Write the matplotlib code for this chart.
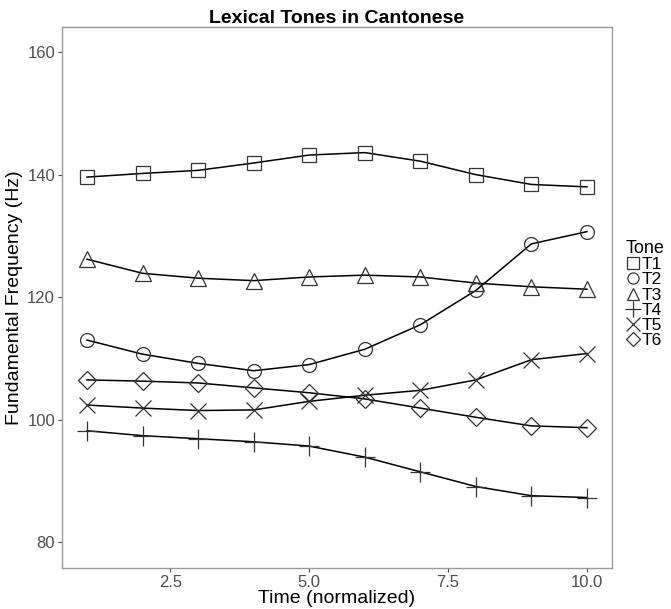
import matplotlib.pyplot as plt
from matplotlib.lines import Line2D

plt.rcParams['font.family'] = ['Liberation Sans', 'DejaVu Sans']

time = [1, 2, 3, 4, 5, 6, 7, 8, 9, 10]
tones = ['T1', 'T2', 'T3', 'T4', 'T5', 'T6']
t1 = [139.6, 140.2, 140.7, 141.9, 143.2, 143.6, 142.2, 140.0, 138.4, 138.0]
t2 = [113.0, 110.7, 109.2, 108.0, 109.0, 111.5, 115.5, 121.1, 128.7, 130.7]
t3 = [126.2, 123.9, 123.1, 122.7, 123.3, 123.6, 123.3, 122.3, 121.7, 121.3]
t4 = [98.2, 97.4, 96.9, 96.4, 95.7, 93.9, 91.5, 89.1, 87.6, 87.3]
t5 = [102.4, 101.9, 101.5, 101.6, 103.0, 104.0, 104.8, 106.5, 109.8, 110.8]
t6 = [106.5, 106.3, 106.0, 105.2, 104.4, 103.4, 101.9, 100.4, 99.0, 98.7]
series = [t1, t2, t3, t4, t5, t6]
markers = ['s', 'o', '^', '+', 'x', 'D']
sizes = [10, 10, 11, 14, 12, 9]
leg_sizes = [8, 8, 9, 11, 10, 7.5]

fig = plt.figure(figsize=(6.71, 6.09), dpi=100)
ax = fig.add_axes([0.0924, 0.0673, 0.8196, 0.8884])

handles = []
for name, ys, m, s, ls in zip(tones, series, markers, sizes, leg_sizes):
    ax.plot(time, ys, color='black', lw=1.1, zorder=2)
    ax.plot(time, ys, linestyle='none', marker=m, markersize=s,
            markerfacecolor='none', markeredgecolor='#333333',
            markeredgewidth=0.9, zorder=3)
    handles.append(Line2D([], [], linestyle='none', marker=m, markersize=ls,
                          markerfacecolor='none', markeredgecolor='#333333',
                          markeredgewidth=0.9, label=name))

ax.set_xlim(0.55, 10.45)
ax.set_ylim(75.8, 164.1)
ax.set_xticks([2.5, 5.0, 7.5, 10.0])
ax.set_xticklabels(['2.5', '5.0', '7.5', '10.0'])
ax.set_yticks([80, 100, 120, 140, 160])
ax.tick_params(labelsize=12, labelcolor='#4d4d4d', color='#4d4d4d',
               length=3, pad=2)
for sp in ax.spines.values():
    sp.set_color('#999999')
    sp.set_linewidth(1.0)

ax.set_title('Lexical Tones in Cantonese', fontsize=14, fontweight='bold', pad=3)
ax.set_xlabel('Time (normalized)', fontsize=14, labelpad=0)
ax.set_ylabel('Fundamental Frequency (Hz)', fontsize=14, labelpad=3)

leg = fig.legend(handles=handles, title='Tone', loc='upper left',
                 bbox_to_anchor=(0.922, 0.617), frameon=False,
                 fontsize=12.5, title_fontsize=13, handlelength=0.8,
                 handletextpad=0.1, labelspacing=0.0, borderaxespad=0)
leg._legend_box.align = 'left'

fig.savefig('out.png', dpi=100)
